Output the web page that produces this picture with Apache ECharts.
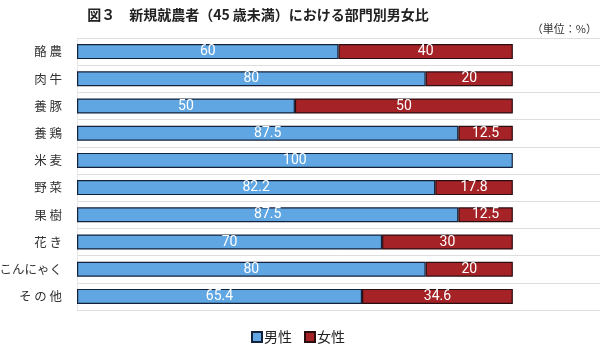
<!DOCTYPE html>
<html>
<head>
<meta charset="utf-8">
<script src="https://cdn.jsdelivr.net/npm/echarts@6/dist/echarts.min.js"></script>
<style>
  html, body { margin: 0; padding: 0; background: #fff; }
  #chart { width: 606px; height: 350px; }
</style>
</head>
<body>
<div id="chart"></div>
<script>
// 部門別の男女比（%）
const categories = ['酪 農', '肉 牛', '養 豚', '養 鶏', '米 麦', '野 菜', '果 樹', '花 き', 'こんにゃく', 'そ の 他'];
const maleValues = [60, 80, 50, 87.5, 100, 82.2, 87.5, 70, 80, 65.4];
const femaleValues = [40, 20, 50, 12.5, 0, 17.8, 12.5, 30, 20, 34.6];
const seriesNames = ['男性', '女性'];

const jpFont = '"Noto Sans CJK JP", "Noto Sans", sans-serif';
const numFont = '"Liberation Sans Narrow", Roboto, "Noto Sans", sans-serif';

// 0% の区分は棒を描かない
const asBarData = arr => arr.map(v => (v > 0 ? v : '-'));

const chart = echarts.init(document.getElementById('chart'), null, { renderer: 'canvas' });

const labelStyle = {
  show: true,
  position: 'inside',
  color: '#ffffff',
  fontFamily: numFont,
  fontSize: 14,
  formatter: p => String(p.value)
};

chart.setOption({
  animation: false,
  backgroundColor: '#ffffff',
  title: [
    {
      text: '図３　新規就農者（45 歳未満）における部門別男女比',
      left: 253,
      textAlign: 'center',
      top: 3,
      textStyle: { fontFamily: jpFont, fontSize: 14, fontWeight: 'bold', color: '#222' }
    },
    {
      text: '（単位：%）',
      right: 4,
      top: 18,
      textStyle: { fontFamily: jpFont, fontSize: 11, fontWeight: 'normal', color: '#333' }
    }
  ],
  legend: {
    bottom: 1,
    left: 246,
    itemWidth: 10,
    itemHeight: 10,
    itemGap: 12,
    icon: 'rect',
    textStyle: { fontFamily: jpFont, fontSize: 14, color: '#222', padding: [0, 0, 0, -3] },
    data: seriesNames
  },
  grid: { left: 77, right: 6, top: 38, bottom: 40, outerBoundsMode: 'none', containLabel: false },
  xAxis: {
    type: 'value',
    min: 0,
    max: 120,
    show: false
  },
  yAxis: {
    type: 'category',
    inverse: true,
    data: categories,
    axisTick: { show: false },
    axisLine: { show: true, lineStyle: { color: '#e6e6e6', width: 1 } },
    splitLine: { show: true, lineStyle: { color: '#dddddd', width: 1 } },
    axisLabel: { fontFamily: jpFont, fontSize: 12.5, color: '#333', margin: 15 }
  },
  series: [
    {
      name: seriesNames[0],
      type: 'bar',
      stack: 'total',
      barWidth: 15,
      data: asBarData(maleValues),
      itemStyle: { color: '#5fa6e2', borderColor: '#13213a', borderWidth: 1.2 },
      label: labelStyle
    },
    {
      name: seriesNames[1],
      type: 'bar',
      stack: 'total',
      barWidth: 15,
      data: asBarData(femaleValues),
      itemStyle: { color: '#a52226', borderColor: '#2a0d10', borderWidth: 1.2 },
      label: labelStyle
    }
  ]
});
</script>
</body>
</html>
